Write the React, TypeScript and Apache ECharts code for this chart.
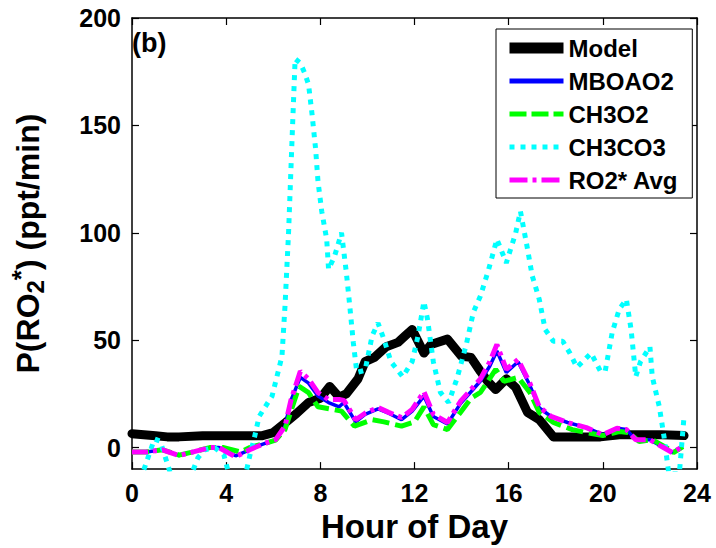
import React, { useEffect, useRef } from "react";
import * as echarts from "echarts";

const FONT = "'Liberation Sans', Arial, Helvetica, sans-serif";

const xTicks = [0, 4, 8, 12, 16, 20, 24];
const yTicks = [0, 50, 100, 150, 200];

const modelHours = [0, 0.5, 1, 1.5, 2, 3, 4, 5, 5.5, 6, 6.5, 7, 7.5, 8, 8.4, 8.8, 9.1, 9.6, 9.9, 10.3, 10.8, 11.3, 11.6, 11.9, 12.4, 12.7, 13.4, 14.0, 14.4, 14.8, 15.1, 15.45, 15.9, 16.3, 16.8, 17.3, 17.9, 18.6, 19.9, 20.7, 21.5, 22.5, 23.45];
const modelValues = [6.5, 6, 5.5, 5, 5, 5.5, 5.5, 5.5, 5.5, 7, 11.5, 16, 21, 23, 28.5, 23.5, 25, 32, 40, 42, 47, 49, 52, 55, 44, 48, 50.5, 42.5, 42, 35.5, 31, 27, 32, 28, 16.4, 13, 5, 5, 5, 6, 6, 6, 5.6];

const ro2Hours = [0, 0.6, 1.3, 2.0, 2.6, 3.3, 3.7, 4.4, 5.0, 5.5, 6.1, 6.5, 6.75, 7.15, 7.5, 7.9, 8.35, 8.8, 9.0, 9.5, 9.9, 10.45, 10.9, 11.45, 11.9, 12.4, 12.8, 13.4, 13.95, 14.4, 14.8, 15.2, 15.5, 15.9, 16.4, 16.9, 17.3, 17.8, 18.5, 19.3, 20.0, 20.6, 21.0, 21.4, 22.0, 22.5, 22.95, 23.4];
const mboao2Values = [-2, -2, -1, -3.7, -2, 0, 0, -3.8, -1, 1.4, 3.7, 10, 22, 32.7, 30, 24, 21, 19, 21, 12, 15.5, 18, 16, 13, 17, 24, 14.5, 11, 20.5, 26, 31, 38, 45, 35, 40, 29, 18.5, 14.5, 11.7, 9.3, 6, 9, 8.4, 3.7, 3.7, 0.5, -2.3, 0.5];
const ro2AvgValues = [-2, -2, -1, -3.7, -2, 0, 0, -4.3, -1, 1.4, 3.7, 10, 22, 35.5, 32, 25.6, 22.4, 22.4, 22, 13, 16, 18.7, 16.4, 14, 17.8, 26, 15.5, 11.7, 21.5, 27, 32, 40, 48, 36.4, 41, 30, 19, 14.5, 11.7, 9.3, 6, 9, 8.4, 3.7, 3.7, 0.5, -2.3, 0.5];

const ch3o2Hours = [0, 0.6, 1.3, 2.0, 2.6, 3.3, 3.9, 4.6, 5.0, 5.5, 6.1, 6.5, 6.9, 7.1, 7.5, 7.9, 8.5, 8.9, 9.45, 10.2, 10.7, 11.45, 12.0, 12.4, 12.8, 13.4, 13.95, 14.4, 14.8, 15.45, 15.8, 16.4, 16.9, 17.3, 17.9, 18.7, 19.3, 20.0, 20.7, 21.1, 21.55, 22.1, 22.7, 23.0, 23.4];
const ch3o2Values = [-2, -2, -1, -3.5, -2, 0, 0, -2, 0, 1.5, 3.5, 8.4, 22, 28.5, 25.6, 19, 17.8, 17, 10, 13, 12, 10, 12, 19, 10.7, 8.4, 16.4, 23, 25.7, 36.4, 30.8, 32.7, 25.7, 16.4, 11.7, 8.4, 7, 5.6, 7.5, 7, 2.8, 3.7, 0, -2.3, 0.5];

const ch3co3Hours = [0.2, 0.95, 1.2, 1.75, 2.4, 2.8, 3.1, 3.5, 3.9, 4.2, 4.75, 5.0, 5.2, 5.4, 5.95, 6.37, 6.5, 6.65, 6.8, 6.93, 7.15, 7.35, 7.5, 7.65, 7.8, 7.9, 8.06, 8.27, 8.35, 8.6, 8.9, 9.1, 9.25, 9.4, 9.55, 9.9, 10.2, 10.45, 10.7, 11.0, 11.5, 11.9, 12.15, 12.4, 12.55, 12.8, 13.1, 13.45, 13.8, 14.2, 14.5, 14.8, 15.15, 15.5, 15.9, 16.3, 16.5, 16.8, 17.0, 17.3, 17.55, 17.9, 18.3, 18.6, 18.9, 19.5, 19.9, 20.1, 20.4, 20.7, 21.0, 21.2, 21.4, 21.6, 22.0, 22.1, 22.4, 22.6, 22.8, 23.25, 23.45];
const ch3co3Values = [-20, 4, 3, -16, -16, -4.7, -1, 0, -3.3, -16, -16, -4, 4.7, 14.5, 24, 42.5, 66, 100, 144, 181, 179, 174, 169, 155, 139, 124, 110, 97, 83, 89, 100, 82, 66, 49, 35, 36, 52, 58, 50.5, 40, 33, 40, 52, 68, 60, 40, 25.7, 21, 32, 48, 63, 70.6, 83, 97, 86, 100, 110, 92.5, 80, 69, 55, 49.5, 49.5, 44, 37.4, 44, 35.5, 35.5, 53.7, 64.5, 69, 55, 33, 40, 47, 33, 19, 5, -12, -12, 14.5];

const pairs = (h: number[], v: number[]) => h.map((x, i) => [x, v[i]]);

export default function App() {
  const ref = useRef<HTMLDivElement>(null);
  useEffect(() => {
    if (!ref.current) return;
    const chart = echarts.init(ref.current, null, { renderer: "svg" });
    const axisLine = { show: true, onZero: false, lineStyle: { color: "#000", width: 1.5 } };
    const tick = { show: true, inside: true, length: 7, lineStyle: { color: "#000", width: 1.2 } };
    const labelStyle = { color: "#000", fontSize: 25, fontWeight: "bold", fontFamily: FONT };
    const option: any = {
      animation: false,
      backgroundColor: "#fff",
      grid: { left: 129, right: 19, top: 18, bottom: 78 },
      title: {
        text: "(b)",
        left: 132,
        top: 29,
        padding: 0,
        textStyle: { color: "#000", fontSize: 27, fontWeight: "bold", fontFamily: FONT },
      },
      legend: {
        orient: "vertical",
        left: 496,
        top: 29,
        padding: [7, 14, 6, 8],
        itemGap: 9,
        itemWidth: 54,
        itemHeight: 14,
        borderColor: "#000",
        borderWidth: 1,
        backgroundColor: "#fff",
        itemStyle: { opacity: 0 },
        textStyle: { color: "#000", fontSize: 24, fontWeight: "bold", fontFamily: FONT, lineHeight: 24 },
        data: [
          { name: "Model", lineStyle: { color: "#000", width: 11, type: "solid", cap: "butt" } },
          { name: "MBOAO2", lineStyle: { color: "#0000ff", width: 5, type: "solid", cap: "butt" } },
          { name: "CH3O2", lineStyle: { color: "#00ff00", width: 5, type: [17, 5], cap: "butt" } },
          { name: "CH3CO3", lineStyle: { color: "#00ffff", width: 5, type: [5, 6], cap: "butt" } },
          { name: "RO2* Avg", lineStyle: { color: "#ff00ff", width: 5, type: [18, 5, 4, 5], cap: "butt" } },
        ],
      },
      xAxis: [
        {
          type: "value",
          min: 0,
          max: 24,
          interval: 4,
          position: "bottom",
          name: "Hour of Day",
          nameLocation: "middle",
          nameGap: 38,
          nameTextStyle: { color: "#000", fontSize: 33, fontWeight: "bold", fontFamily: FONT },
          axisLine,
          axisTick: tick,
          axisLabel: { ...labelStyle, margin: 11, customValues: xTicks },
          splitLine: { show: false },
        },
        {
          type: "value",
          min: 0,
          max: 24,
          interval: 4,
          position: "top",
          axisLine,
          axisTick: tick,
          axisLabel: { show: false },
          splitLine: { show: false },
        },
      ],
      yAxis: [
        {
          type: "value",
          min: -10,
          max: 200,
          position: "left",
          name: "{a|P(RO}{sub|2}{sup|*}{a|) (ppt/min)}",
          nameLocation: "middle",
          nameGap: 84,
          nameTextStyle: {
            color: "#000",
            fontSize: 32,
            fontWeight: "bold",
            fontFamily: FONT,
            rich: {
              a: { color: "#000", fontSize: 32, fontWeight: "bold", fontFamily: FONT },
              sub: { color: "#000", fontSize: 24, fontWeight: "bold", fontFamily: FONT, padding: [14, 0, 0, 0] },
              sup: { color: "#000", fontSize: 26, fontWeight: "bold", fontFamily: FONT, padding: [0, 0, 14, 0] },
            },
          },
          axisLine,
          axisTick: { ...tick, customValues: yTicks },
          axisLabel: { ...labelStyle, margin: 11, customValues: yTicks },
          splitLine: { show: false },
        },
        {
          type: "value",
          min: -10,
          max: 200,
          position: "right",
          axisLine,
          axisTick: { ...tick, customValues: yTicks },
          axisLabel: { show: false, customValues: yTicks },
          splitLine: { show: false },
        },
      ],
      series: [
        {
          name: "Model",
          type: "line",
          data: pairs(modelHours, modelValues),
          symbol: "none",
          clip: true,
          lineStyle: { color: "#000", width: 9, cap: "round", join: "round" },
          itemStyle: { color: "#000" },
        },
        {
          name: "MBOAO2",
          type: "line",
          data: pairs(ro2Hours, mboao2Values),
          symbol: "none",
          clip: true,
          lineStyle: { color: "#0000ff", width: 3.5 },
          itemStyle: { color: "#0000ff" },
        },
        {
          name: "CH3O2",
          type: "line",
          data: pairs(ch3o2Hours, ch3o2Values),
          symbol: "none",
          clip: true,
          lineStyle: { color: "#00ff00", width: 5, type: [17, 6] },
          itemStyle: { color: "#00ff00" },
        },
        {
          name: "CH3CO3",
          type: "line",
          data: pairs(ch3co3Hours, ch3co3Values),
          symbol: "none",
          clip: true,
          lineStyle: { color: "#00ffff", width: 5, type: [5, 6] },
          itemStyle: { color: "#00ffff" },
        },
        {
          name: "RO2* Avg",
          type: "line",
          data: pairs(ro2Hours, ro2AvgValues),
          symbol: "none",
          clip: true,
          lineStyle: { color: "#ff00ff", width: 5, type: [16, 5, 4, 5] },
          itemStyle: { color: "#ff00ff" },
        },
      ],
    };
    chart.setOption(option);
    return () => chart.dispose();
  }, []);
  return (
    <div
      ref={ref}
      style={{ position: "fixed", left: 0, top: 0, width: 716, height: 548, background: "#fff" }}
    />
  );
}
